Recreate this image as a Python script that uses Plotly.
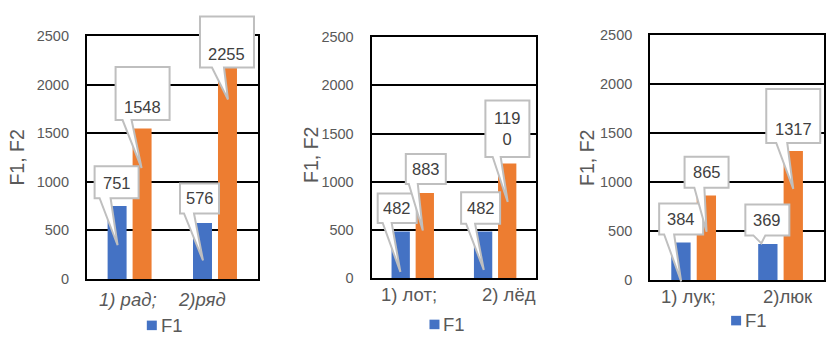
import plotly.graph_objects as go

# ---- data -------------------------------------------------------------
Y_MAX = 2500
Y_STEP = 500
y_title = "F1, F2"
series_names = ["F1", "F2"]

categories_1 = ["1) рад;", "2)ряд"]
f1_values_1 = [751, 576]
f2_values_1 = [1548, 2255]

categories_2 = ["1) лот;", "2) лёд"]
f1_values_2 = [482, 482]
f2_values_2 = [883, 1190]

categories_3 = ["1) лук;", "2)люк"]
f1_values_3 = [384, 369]
f2_values_3 = [865, 1317]

# ---- style --------------------------------------------------------------
W, H = 826, 341
BLUE, ORANGE = "#4472C4", "#ED7D31"
AXIS_GRAY = "#595959"
LABEL_GRAY = "#404040"
CALLOUT_EDGE = "#BFBFBF"
FONT = "Liberation Sans, Arial, sans-serif"
BARGAP, BARGROUPGAP = 0.415, 0.24

# plot-area boxes in pixels: (left, right, top, bottom)
panel_boxes = [(87, 258, 29.3, 284.3), (372, 537, 30.7, 283.3), (651, 825, 28.3, 285.7)]
italic_labels = [True, False, False]
# category label centres (px) and vertical centre
label_x = [(128, 202), (409.5, 510), (689.5, 789)]
label_y = [306, 301, 303]
title_pos = [(17, 157), (311.5, 154), (587, 157)]
# legend key: square left edge and vertical centre (px)
legend_pos = [(147, 333), (430, 332), (732, 328)]

# callout geometry relative to the top of its bar (px, +y up):
# box left, box width, box height, box bottom, tip dx, tip dy, wedge base left/right, wrap
callouts = {
    (0, 0): [(-22.5, 44, 32, 7.7, 0.5, -39.3, -17.5, -6.5, False),
             (-22.5, 39, 30, 9.5, 0.5, -37.5, -18.5, -8.5, False)],
    (0, 1): [(-26.5, 54, 53, 8.4, -0.5, -39.6, -19.5, -10.5, False),
             (-27.5, 54, 51, -7.7, 0.5, -39.7, -15.5, -3.5, False)],
    (1, 0): [(-23, 39, 29.5, 8.6, -0.3, -40.4, -18, -9, False),
             (-22, 39, 31.5, 7.9, 0.7, -38.4, -17, -8, False)],
    (1, 1): [(-19, 40, 30, 9.1, -2, -37.6, -16, -7, False),
             (-21.8, 44, 56.5, 6.4, 0.5, -38.6, -14.5, -6.5, True)],
    (2, 0): [(-21.8, 44, 31, 8.2, 0.2, -38.8, -16.8, -6.8, False),
             (-22.5, 44, 31, 8.7, -6.5, 0.7, -14.5, -2.5, False)],
    (2, 1): [(-21.8, 44, 31, 7.6, 0.2, -36.4, -12, -2, False),
             (-27, 54, 54, 8.1, 0, -37.9, -17, -6, False)],
}

panels = [
    (categories_1, [f1_values_1, f2_values_1]),
    (categories_2, [f1_values_2, f2_values_2]),
    (categories_3, [f1_values_3, f2_values_3]),
]


def callout_path(left, width, height, bottom, tx, ty, bl, br):
    right, top = left + width, bottom + height
    return (f"M{left},{top} L{right},{top} L{right},{bottom} L{br},{bottom} "
            f"L{tx},{ty} L{bl},{bottom} L{left},{bottom} Z")


fig = go.Figure()
shapes, annotations = [], []
layout = {}
bar_half = (1 - BARGAP) / 4  # centre offset of each bar within its category

for p, (cats, series) in enumerate(panels):
    n = p + 1
    xa = "x" if n == 1 else f"x{n}"
    ya = "y" if n == 1 else f"y{n}"
    left, right, top, bottom = panel_boxes[p]

    for s, (name, vals, color) in enumerate(zip(series_names, series, [BLUE, ORANGE])):
        fig.add_trace(go.Bar(
            x=cats, y=vals, name=name, marker=dict(color=color, line=dict(width=0)),
            xaxis=xa, yaxis=ya, showlegend=False, hoverinfo="skip",
        ))
        # callouts carrying the values
        for i, v in enumerate(vals):
            bl_, bw, bh, bb, tx, ty, wl, wr, wrap = callouts[(p, s)][i]
            xdom = (i + 0.5 + (2 * s - 1) * bar_half) / len(cats)
            ydom = v / Y_MAX
            shapes.append(dict(
                type="path", xref=f"{xa} domain", yref=f"{ya} domain",
                xsizemode="pixel", ysizemode="pixel", xanchor=xdom, yanchor=ydom,
                path=callout_path(bl_, bw, bh, bb, tx, ty, wl, wr),
                fillcolor="white", line=dict(color=CALLOUT_EDGE, width=2), layer="above",
            ))
            txt = str(v)
            if wrap:
                txt = txt[:3] + "<br>" + txt[3:]
                ty_text = bb + bh / 2
            else:
                ty_text = bb + min(bh, 31) / 2 - (2 if bh > 40 else 0)
            annotations.append(dict(
                xref=f"{xa} domain", yref=f"{ya} domain", x=xdom, y=ydom,
                xshift=bl_ + bw / 2, yshift=ty_text, text=txt, showarrow=False,
                xanchor="center", yanchor="middle",
                font=dict(family=FONT, size=16.5, color=LABEL_GRAY),
            ))

    # category labels under the axis
    for i, c in enumerate(cats):
        lab = f"<i>{c}</i>" if italic_labels[p] else c
        annotations.append(dict(
            xref="paper", yref="paper", x=label_x[p][i] / W, y=1 - label_y[p] / H,
            text=lab, showarrow=False, xanchor="center", yanchor="middle",
            font=dict(family=FONT, size=18.5, color=AXIS_GRAY),
        ))

    # rotated y-axis title
    annotations.append(dict(
        xref="paper", yref="paper", x=title_pos[p][0] / W, y=1 - title_pos[p][1] / H,
        text=y_title, textangle=-90, showarrow=False, xanchor="center", yanchor="middle",
        font=dict(family=FONT, size=19.5, color=AXIS_GRAY),
    ))

    # legend key for the first series
    kx, ky = legend_pos[p]
    shapes.append(dict(
        type="rect", xref="paper", yref="paper",
        x0=kx / W, x1=(kx + 10) / W, y0=1 - (ky + 5) / H, y1=1 - (ky - 5) / H,
        fillcolor=BLUE, line=dict(width=0),
    ))
    annotations.append(dict(
        xref="paper", yref="paper", x=(kx + 12) / W, y=1 - ky / H,
        text=series_names[0], showarrow=False, xanchor="left", yanchor="middle",
        font=dict(family=FONT, size=18.5, color=AXIS_GRAY),
    ))

    layout[xa.replace("x", "xaxis")] = dict(
        domain=[left / W, right / W], anchor=ya, type="category",
        showticklabels=False, ticks="", showgrid=False,
        showline=True, linecolor="black", linewidth=2, mirror=True,
        fixedrange=True,
    )
    layout[ya.replace("y", "yaxis")] = dict(
        domain=[1 - bottom / H, 1 - top / H], anchor=xa, range=[0, Y_MAX],
        tickmode="linear", tick0=0, dtick=Y_STEP, ticks="",
        ticklabelstandoff=13,
        tickfont=dict(family=FONT, size=14.5, color=AXIS_GRAY),
        showgrid=True, gridcolor="black", gridwidth=2,
        showline=True, linecolor="black", linewidth=2, mirror=True,
        zeroline=False, fixedrange=True,
    )

fig.update_layout(
    width=W, height=H, margin=dict(l=0, r=0, t=0, b=0),
    paper_bgcolor="white", plot_bgcolor="white",
    barmode="group", bargap=BARGAP, bargroupgap=BARGROUPGAP,
    shapes=shapes, annotations=annotations, showlegend=False,
    font=dict(family=FONT), **layout,
)

fig.write_html("out.html", config={"displayModeBar": False})
